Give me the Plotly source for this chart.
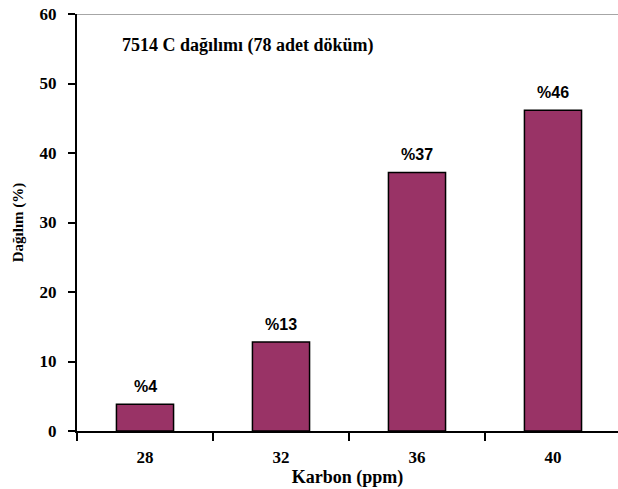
import plotly.graph_objects as go

categories = ["28", "32", "36", "40"]
values = [3.85, 12.8, 37.2, 46.15]
labels = ["%4", "%13", "%37", "%46"]
title_text = "7514 C dağılımı (78 adet döküm)"

serif = "Liberation Serif"
sans = "Liberation Sans"

fig = go.Figure()
fig.add_trace(go.Bar(
    x=categories, y=values, width=0.42,
    marker=dict(color="#993366", line=dict(color="black", width=1.5)),
    hoverinfo="skip",
))

for i, (v, t) in enumerate(zip(values, labels)):
    fig.add_annotation(x=i, y=v, xref="x", yref="y", text=t, showarrow=False,
                       yanchor="bottom", yshift=7,
                       font=dict(family=sans, size=16, color="black", weight="bold"))

fig.add_annotation(xref="paper", yref="paper", x=0.08, y=0.925, xanchor="left", yanchor="middle",
                   text=title_text, showarrow=False,
                   font=dict(family=serif, size=18, color="black", weight="bold"))

fig.add_shape(type="line", xref="paper", yref="y", x0=0, x1=1, y0=60, y1=60,
              line=dict(color="#888888", width=1.5))

fig.update_layout(
    width=618, height=489,
    margin=dict(l=77, r=0, t=14, b=58),
    plot_bgcolor="white", paper_bgcolor="white",
    showlegend=False,
    xaxis=dict(
        type="category", range=[-0.5, 3.478], tickson="boundaries",
        ticks="outside", ticklen=8, tickwidth=2, tickcolor="black",
        showline=True, linecolor="black", linewidth=2, showgrid=False,
        ticklabelstandoff=10,
        tickfont=dict(family=serif, size=17, color="black", weight="bold"),
        title=dict(text="Karbon (ppm)", standoff=4,
                   font=dict(family=serif, size=18, color="black", weight="bold")),
    ),
    yaxis=dict(
        range=[0, 60], dtick=10, ticks="outside", ticklen=7, tickwidth=2, tickcolor="black",
        showline=True, linecolor="black", linewidth=2, showgrid=False, zeroline=False,
        ticklabelstandoff=8,
        tickfont=dict(family=serif, size=17, color="black", weight="bold"),
        title=dict(text="Dağılım (%)", standoff=12,
                   font=dict(family=serif, size=15, color="black", weight="bold")),
    ),
)

fig.write_html("out.html")
